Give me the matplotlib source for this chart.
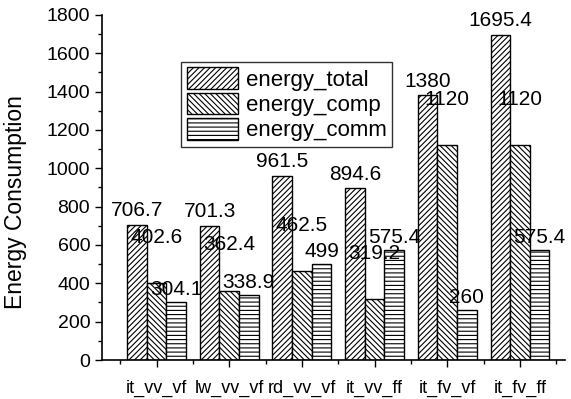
import matplotlib
matplotlib.use("Agg")
import matplotlib.pyplot as plt
import numpy as np
from matplotlib.ticker import MultipleLocator

plt.rcParams["font.family"] = ["Liberation Sans", "DejaVu Sans"]
plt.rcParams["hatch.linewidth"] = 0.8

categories = ["it_vv_vf", "lw_vv_vf", "rd_vv_vf", "it_vv_ff", "it_fv_vf", "it_fv_ff"]
energy_total = [706.7, 701.3, 961.5, 894.6, 1380, 1695.4]
energy_comp = [402.6, 362.4, 462.5, 319.2, 1120, 1120]
energy_comm = [304.1, 338.9, 499, 575.4, 260, 575.4]

# (name, values, hatch, label lift above bar in data units)
series = [
    ("energy_total", energy_total, "//////", 45),
    ("energy_comp", energy_comp, "\\\\\\\\\\\\", 210),
    ("energy_comm", energy_comm, "----", 36),
]

fig = plt.figure(figsize=(5.71, 3.99), dpi=100)
ax = fig.add_axes([0.1786, 0.0977, 0.811, 0.865])

x = np.arange(1, len(categories) + 1)
w = 0.27
for i, (name, vals, hatch, lift) in enumerate(series):
    pos = x + (i - 1) * w
    ax.bar(pos, vals, w, facecolor="white", edgecolor="black",
           hatch=hatch, linewidth=1.0, label=name)
    for p, v in zip(pos, vals):
        ax.text(p, v + lift, f"{v:g}", ha="center", va="baseline", fontsize=15)

ax.set_xlim(0.25, 6.62)
ax.set_ylim(0, 1800)
ax.set_xticks(x)
ax.set_xticklabels(categories, fontsize=13)
ax.set_xticks(np.arange(0.5, 7.0, 1.0), minor=True)
ax.yaxis.set_major_locator(MultipleLocator(200))
ax.yaxis.set_minor_locator(MultipleLocator(100))
ax.tick_params(axis="y", labelsize=14, length=5, width=1)
ax.tick_params(axis="y", which="minor", length=3, width=1)
ax.tick_params(axis="x", which="major", length=5, width=1, pad=9)
ax.tick_params(axis="x", which="minor", length=3, width=1)
ax.spines["top"].set_visible(False)
ax.spines["right"].set_visible(False)
ax.spines["left"].set_linewidth(1.2)
ax.spines["bottom"].set_linewidth(1.2)
ax.set_ylabel("Energy Consumption", fontsize=16.5)
ax.yaxis.set_label_coords(-0.162, 0.458)

leg = ax.legend(loc="upper left", bbox_to_anchor=(0.171, 0.864), fontsize=16,
                frameon=True, fancybox=False, edgecolor="black",
                handlelength=2.3, handleheight=1.1, handletextpad=0.35,
                labelspacing=0.1, borderpad=0.25, borderaxespad=0)
leg.get_frame().set_linewidth(1.0)

fig.savefig("out.png", dpi=100)
